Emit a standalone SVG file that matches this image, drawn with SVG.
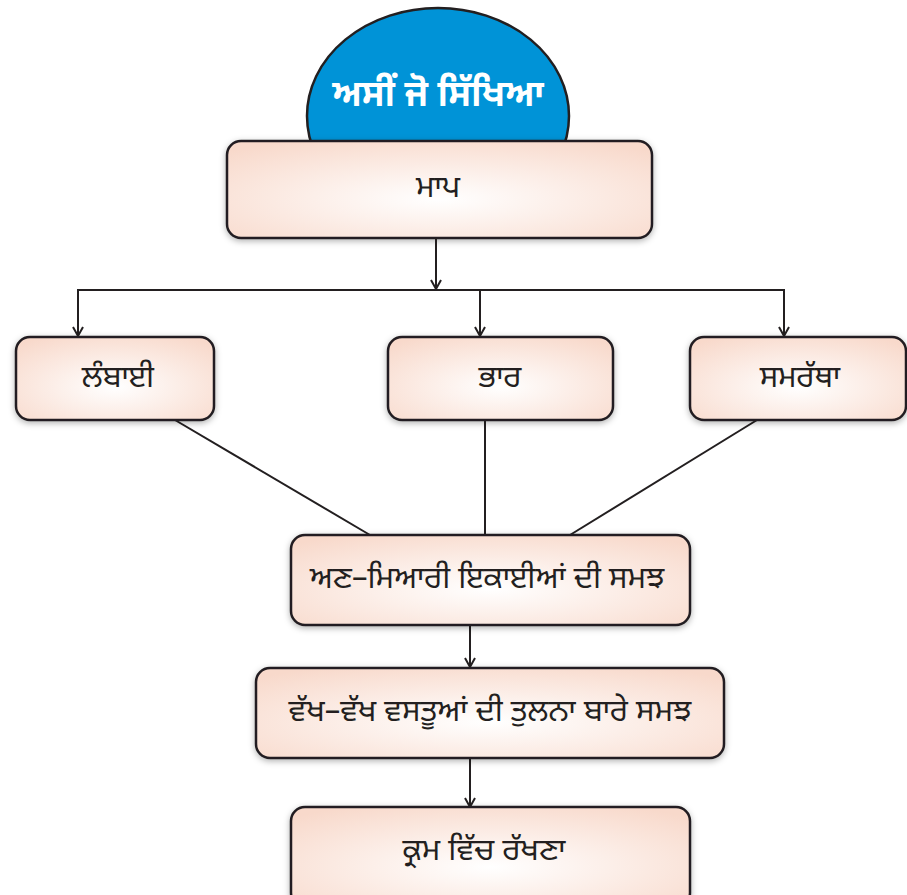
<svg xmlns="http://www.w3.org/2000/svg" width="907" height="895" viewBox="0 0 907 895">
<style>
.box{fill:url(#g);stroke:#231f20;stroke-width:2.5;filter:url(#sh)}
.t{font-family:"Noto Sans Gurmukhi","Lohit Gurmukhi","Noto Sans","DejaVu Sans",sans-serif;font-size:31px;fill:#231f20;text-anchor:middle;dominant-baseline:central}
.c{stroke:#231f20;stroke-width:2;fill:none}
</style>
<defs>
<radialGradient id="g" cx="50%" cy="60%" r="70%">
<stop offset="0" stop-color="#ffffff"/>
<stop offset="1" stop-color="#f8d9cb"/>
</radialGradient>
<filter id="sh" x="-10%" y="-10%" width="120%" height="130%">
<feDropShadow dx="0" dy="2" stdDeviation="3" flood-color="#000" flood-opacity="0.3"/>
</filter>
<marker id="a" viewBox="0 0 12 12" refX="11" refY="6" markerWidth="12" markerHeight="12" markerUnits="userSpaceOnUse" orient="auto">
<path d="M2 1 L11 6 L2 11" fill="none" stroke="#231f20" stroke-width="2"/>
</marker>
</defs>
<g id="title">
<ellipse cx="438" cy="116" rx="131" ry="108" fill="#0093d7" stroke="#231f20" stroke-width="2.5"/>
<text x="438" y="97" class="t" style="fill:#fff;font-size:36px;font-weight:bold">ਅਸੀਂ ਜੋ ਸਿੱਖਿਆ</text>
</g>
<g id="n-map">
<rect class="box" x="227" y="141" width="425" height="97" rx="14"/>
<text class="t" x="438" y="189">ਮਾਪ</text>
</g>
<g id="connectors">
<line class="c" x1="436" y1="238" x2="436" y2="289" marker-end="url(#a)"/>
<polyline class="c" points="78,336 78,290 784,290 784,336"/>
<line class="c" x1="78" y1="300" x2="78" y2="336" marker-end="url(#a)"/>
<line class="c" x1="480" y1="290" x2="480" y2="336" marker-end="url(#a)"/>
<line class="c" x1="784" y1="300" x2="784" y2="336" marker-end="url(#a)"/>
<line class="c" x1="175" y1="420" x2="370" y2="535"/>
<line class="c" x1="485" y1="420" x2="485" y2="535"/>
<line class="c" x1="757" y1="420" x2="570" y2="535"/>
<line class="c" x1="470" y1="625" x2="470" y2="667" marker-end="url(#a)"/>
<line class="c" x1="470" y1="758" x2="470" y2="807" marker-end="url(#a)"/>
</g>
<g id="n-lambai">
<rect class="box" x="16" y="337" width="198" height="83" rx="14"/>
<text class="t" x="118" y="379">ਲੰਬਾਈ</text>
</g>
<g id="n-bhar">
<rect class="box" x="388" y="337" width="225" height="83" rx="14"/>
<text class="t" x="500" y="379">ਭਾਰ</text>
</g>
<g id="n-samartha">
<rect class="box" x="690" y="337" width="216" height="83" rx="14"/>
<text class="t" x="800" y="379">ਸਮਰੱਥਾ</text>
</g>
<g id="n-anmiari">
<rect class="box" x="291" y="535" width="399" height="90" rx="14"/>
<text class="t" x="487" y="580">ਅਣ–ਮਿਆਰੀ ਇਕਾਈਆਂ ਦੀ ਸਮਝ</text>
</g>
<g id="n-vakh">
<rect class="box" x="256" y="668" width="468" height="90" rx="14"/>
<text class="t" x="490" y="713">ਵੱਖ–ਵੱਖ ਵਸਤੂਆਂ ਦੀ ਤੁਲਨਾ ਬਾਰੇ ਸਮਝ</text>
</g>
<g id="n-kram">
<rect class="box" x="291" y="807" width="399" height="100" rx="14"/>
<text class="t" x="484" y="852">ਕ੍ਰਮ ਵਿੱਚ ਰੱਖਣਾ</text>
</g>
</svg>
